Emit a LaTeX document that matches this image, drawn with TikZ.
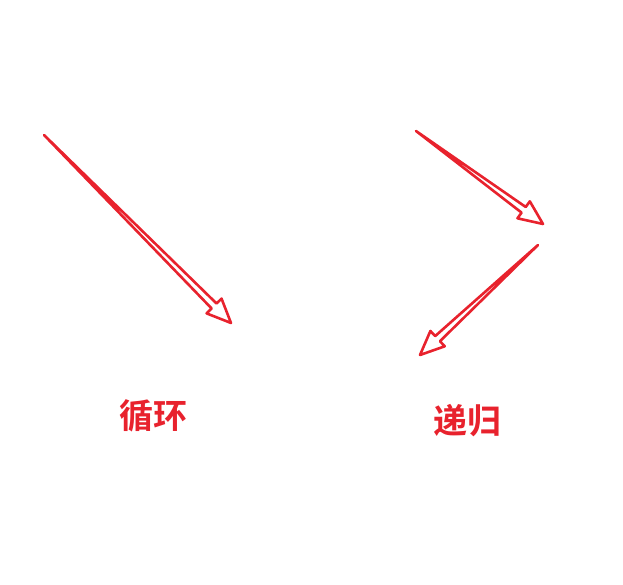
\documentclass[tikz,border=0pt]{standalone}
\usepackage{fontspec}
\newfontfamily\cjk{Noto Sans CJK SC}[BoldFont={Noto Sans CJK SC Bold}]
\usetikzlibrary{calc}
\definecolor{arrred}{HTML}{E8222D}
\tikzset{
  hollow/.style={draw=arrred, line width=2.6pt, line join=round, fill=white},
  label/.style={text=arrred, font=\cjk\bfseries\fontsize{34}{38}\selectfont, inner sep=0pt}
}
\newcommand\hollowarrow[2]{%
  \path let \p1=(#1) in coordinate (H) at ($(#2)!24pt!(#1)$);
  \draw[hollow] (#1) -- ($(H)!3.5pt!90:(#2)$) -- ($(H)!10.5pt!90:(#2)$) -- (#2)
     -- ($(H)!10.5pt!-90:(#2)$) -- ($(H)!3.5pt!-90:(#2)$) -- cycle;
}
\begin{document}
\begin{tikzpicture}[x=1pt,y=-1pt]
\useasboundingbox (0,0) rectangle (623,585);
\coordinate (t1) at (44,135);
\coordinate (h1) at (231,323);
\coordinate (t2) at (416,131);
\coordinate (h2) at (543,224);
\coordinate (t3) at (538,245);
\coordinate (h3) at (420,355);
\hollowarrow{t1}{h1}
\hollowarrow{t2}{h2}
\hollowarrow{t3}{h3}
\node[label] (loop) at (153,416) {循环};
\node[label] (rec) at (467,421) {递归};
\end{tikzpicture}
\end{document}
